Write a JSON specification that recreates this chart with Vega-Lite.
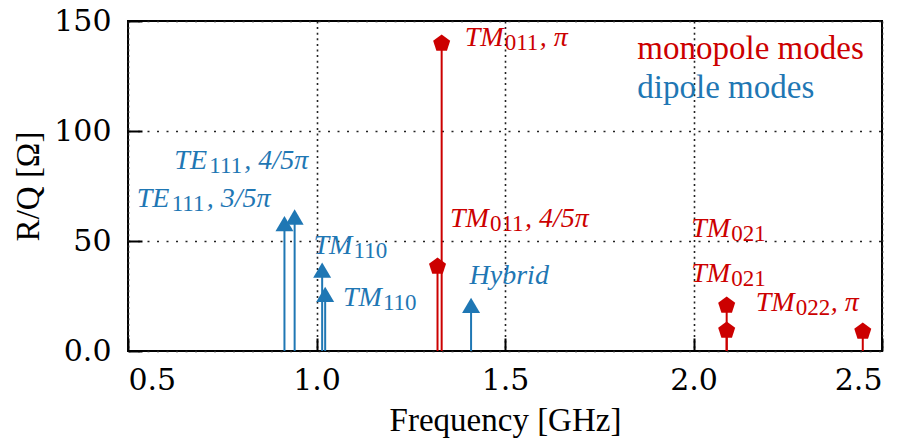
{
  "$schema": "https://vega.github.io/schema/vega-lite/v6.json",
  "width": 754,
  "height": 330,
  "autosize": {"type": "none"},
  "padding": {"left": 128, "top": 21, "right": 37, "bottom": 88},
  "background": "white",
  "config": {
    "view": {"stroke": "black", "strokeWidth": 2},
    "axis": {
      "labelFont": "DejaVu Serif",
      "labelFontSize": 30,
      "labelColor": "black",
      "titleFont": "Liberation Serif",
      "titleFontSize": 33,
      "titleFontWeight": "normal",
      "titleColor": "black",
      "tickColor": "black",
      "tickWidth": 2,
      "domain": false,
      "gridColor": "#222",
      "gridWidth": 1.6
    },
    "text": {"font": "Liberation Serif", "align": "left", "baseline": "alphabetic"}
  },
  "datasets": {
    "stems": [
      {"freq": 0.915, "rq": 57.9, "kind": "dipole"},
      {"freq": 0.942, "rq": 60.9, "kind": "dipole"},
      {"freq": 1.015, "rq": 36.8, "kind": "dipole"},
      {"freq": 1.023, "rq": 25.7, "kind": "dipole"},
      {"freq": 1.41, "rq": 20.7, "kind": "dipole"},
      {"freq": 1.321, "rq": 38.4, "kind": "monopole"},
      {"freq": 1.332, "rq": 139.8, "kind": "monopole"},
      {"freq": 2.088, "rq": 20.7, "kind": "monopole"},
      {"freq": 2.088, "rq": 9.3, "kind": "monopole"},
      {"freq": 2.449, "rq": 8.9, "kind": "monopole"}
    ],
    "labels": [
      {"freq": 1.393, "rq": 138.6, "main": "TM", "sub": "011", "tail": ", π", "kind": "monopole"},
      {"freq": 1.354, "rq": 56.3, "main": "TM", "sub": "011", "tail": ", 4/5π", "kind": "monopole"},
      {"freq": 1.994, "rq": 51.8, "main": "TM", "sub": "021", "tail": "", "kind": "monopole"},
      {"freq": 1.994, "rq": 31.3, "main": "TM", "sub": "021", "tail": "", "kind": "monopole"},
      {"freq": 2.165, "rq": 18.4, "main": "TM", "sub": "022", "tail": ", π", "kind": "monopole"},
      {"freq": 1.406, "rq": 30.6, "main": "Hybrid", "sub": "", "tail": "", "kind": "dipole"},
      {"freq": 0.992, "rq": 44.2, "main": "TM", "sub": "110", "tail": "", "kind": "dipole"},
      {"freq": 1.07, "rq": 20.4, "main": "TM", "sub": "110", "tail": "", "kind": "dipole"},
      {"freq": 0.623, "rq": 82.9, "main": "TE", "sub": "111", "tail": ", 4/5π", "kind": "dipole"},
      {"freq": 0.523, "rq": 65.5, "main": "TE", "sub": "111", "tail": ", 3/5π", "kind": "dipole"}
    ],
    "legend": [
      {"freq": 1.851, "rq": 132.6, "label": "monopole modes", "kind": "monopole"},
      {"freq": 1.851, "rq": 114.8, "label": "dipole modes", "kind": "dipole"}
    ]
  },
  "layer": [
    {
      "data": {"name": "stems"},
      "mark": {"type": "rule", "strokeWidth": 2},
      "encoding": {
        "x": {"field": "freq", "type": "quantitative", "scale": {"domain": [0.5, 2.5], "nice": false, "zero": false},
          "axis": {"values": [0.5, 1.0, 1.5, 2.0, 2.5], "format": ".1f", "title": "Frequency [GHz]", "tickSize": -13, "labelPadding": 27, "titlePadding": 9, "gridDash": [2, 3.6]}},
        "y": {"field": "rq", "type": "quantitative", "scale": {"domain": [0, 150], "nice": false},
          "axis": {"values": [0, 50, 100, 150], "labelExpr": "datum.value == 0 ? '0.0' : datum.label", "title": "R/Q [Ω]", "tickSize": -14, "labelPadding": 31, "titlePadding": 8, "gridDash": [2, 7.5]}},
        "y2": {"datum": 0},
        "color": {"field": "kind", "type": "nominal", "scale": {"domain": ["monopole", "dipole"], "range": ["#cc0000", "#1f77b4"]}, "legend": null}
      }
    },
    {
      "data": {"name": "stems"},
      "transform": [{"filter": "datum.kind == 'dipole'"}],
      "mark": {"type": "point", "filled": true, "opacity": 1, "size": 324, "shape": "M0,-0.85L1,0.85L-1,0.85Z"},
      "encoding": {
        "x": {"field": "freq", "type": "quantitative"},
        "y": {"field": "rq", "type": "quantitative"},
        "color": {"field": "kind", "type": "nominal", "legend": null}
      }
    },
    {
      "data": {"name": "stems"},
      "transform": [{"filter": "datum.kind == 'monopole'"}],
      "mark": {"type": "point", "filled": true, "opacity": 1, "size": 320, "shape": "M0,-1L0.951,-0.309L0.588,0.809L-0.588,0.809L-0.951,-0.309Z"},
      "encoding": {
        "x": {"field": "freq", "type": "quantitative"},
        "y": {"field": "rq", "type": "quantitative"},
        "color": {"field": "kind", "type": "nominal", "legend": null}
      }
    },
    {
      "data": {"name": "labels"},
      "mark": {"type": "text", "fontStyle": "italic", "fontSize": 28},
      "encoding": {
        "x": {"field": "freq", "type": "quantitative"},
        "y": {"field": "rq", "type": "quantitative"},
        "text": {"field": "main"},
        "color": {"field": "kind", "type": "nominal", "legend": null}
      }
    },
    {
      "data": {"name": "labels"},
      "transform": [{"filter": "datum.main == 'TM'"}],
      "mark": {"type": "text", "fontSize": 23, "dx": 40, "dy": 4},
      "encoding": {
        "x": {"field": "freq", "type": "quantitative"},
        "y": {"field": "rq", "type": "quantitative"},
        "text": {"field": "sub"},
        "color": {"field": "kind", "type": "nominal", "legend": null}
      }
    },
    {
      "data": {"name": "labels"},
      "transform": [{"filter": "datum.main == 'TM'"}],
      "mark": {"type": "text", "fontStyle": "italic", "fontSize": 28, "dx": 75},
      "encoding": {
        "x": {"field": "freq", "type": "quantitative"},
        "y": {"field": "rq", "type": "quantitative"},
        "text": {"field": "tail"},
        "color": {"field": "kind", "type": "nominal", "legend": null}
      }
    },
    {
      "data": {"name": "labels"},
      "transform": [{"filter": "datum.main == 'TE'"}],
      "mark": {"type": "text", "fontSize": 23, "dx": 35, "dy": 4},
      "encoding": {
        "x": {"field": "freq", "type": "quantitative"},
        "y": {"field": "rq", "type": "quantitative"},
        "text": {"field": "sub"},
        "color": {"field": "kind", "type": "nominal", "legend": null}
      }
    },
    {
      "data": {"name": "labels"},
      "transform": [{"filter": "datum.main == 'TE'"}],
      "mark": {"type": "text", "fontStyle": "italic", "fontSize": 28, "dx": 70},
      "encoding": {
        "x": {"field": "freq", "type": "quantitative"},
        "y": {"field": "rq", "type": "quantitative"},
        "text": {"field": "tail"},
        "color": {"field": "kind", "type": "nominal", "legend": null}
      }
    },
    {
      "data": {"name": "legend"},
      "mark": {"type": "text", "fontSize": 33},
      "encoding": {
        "x": {"field": "freq", "type": "quantitative"},
        "y": {"field": "rq", "type": "quantitative"},
        "text": {"field": "label"},
        "color": {"field": "kind", "type": "nominal", "legend": null}
      }
    }
  ]
}
